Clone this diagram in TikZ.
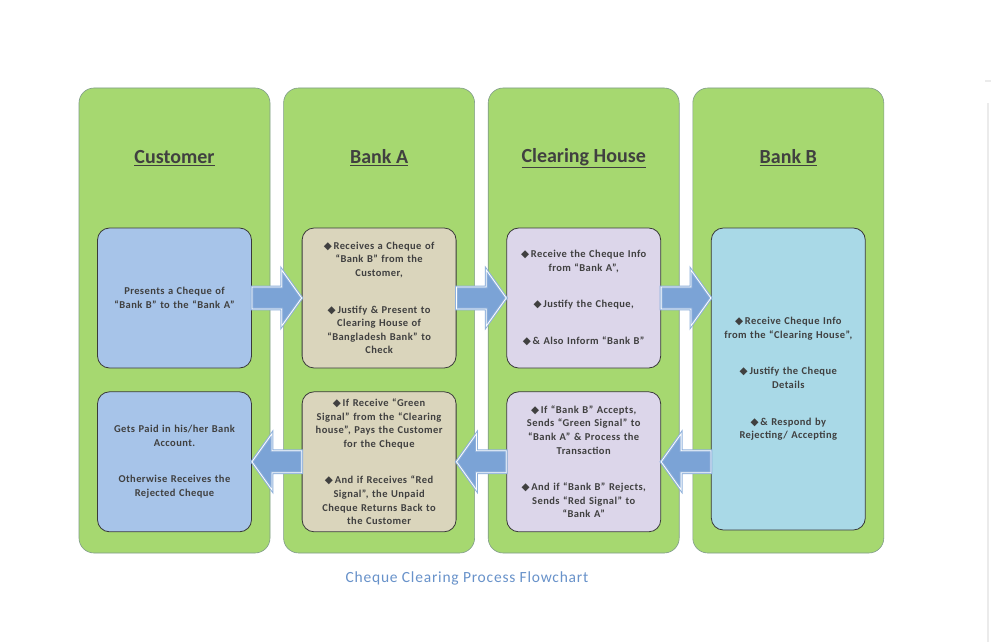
\documentclass[tikz,border=0pt]{standalone}
\usepackage{fontspec}
\setmainfont{Carlito}
\newfontfamily\symfont{DejaVu Sans}
\usepackage{tikz}
\usetikzlibrary{positioning,calc}
\definecolor{lanegreen}{HTML}{A6D870}
\definecolor{laneline}{HTML}{7F9A8A}
\definecolor{boxline}{HTML}{3A3A3A}
\definecolor{custblue}{HTML}{A7C4E9}
\definecolor{bankatan}{HTML}{DAD5BC}
\definecolor{chlav}{HTML}{DCD6EA}
\definecolor{bankbcyan}{HTML}{A9D9E7}
\definecolor{arrowblue}{HTML}{7BA3D6}
\definecolor{textgrey}{HTML}{404040}
\definecolor{capblue}{HTML}{6892CA}
\tikzstyle{lane}=[draw=laneline,fill=lanegreen,line width=0.6pt,rounded corners=15pt,minimum width=191pt,minimum height=465pt,inner sep=0pt]
\tikzstyle{title}=[text=textgrey,font=\bfseries\fontsize{20}{23}\selectfont]
\tikzstyle{box}=[draw=boxline,line width=0.8pt,rounded corners=12pt,minimum width=154pt,minimum height=140pt,text width=150pt,inner sep=0pt,align=center,text=textgrey,font=\bfseries\fontsize{10.5}{13.6}\selectfont\addfontfeature{LetterSpace=4}]
\tikzstyle{fatarrow}=[draw=arrowblue!85,fill=arrowblue,line width=1pt,double=white,double distance=0.8pt,
  to path={let \p1=(\tikztostart), \p2=(\tikztotarget), \n1={ifthenelse(\x2>\x1,20,-20)} in
    (\x1,\y1+11pt) -- (\x2-\n1,\y1+11pt) -- (\x2-\n1,\y1+28pt) -- (\x2,\y1)
    -- (\x2-\n1,\y1-28pt) -- (\x2-\n1,\y1-11pt) -- (\x1,\y1-11pt) -- cycle}]
\newcommand{\dia}{{\symfont ◆}\,}

\begin{document}
\begin{tikzpicture}[x=1pt,y=-1pt]
  \useasboundingbox[fill=white] (0,0) rectangle (991,642);
  % swim lanes
  \node [lane] (lcust) at (174.5,320.5) {};
  \node [lane, right=13pt of lcust] (lbanka) {};
  \node [lane, right=13pt of lbanka] (lch) {};
  \node [lane, right=13pt of lch] (lbankb) {};
  \node [title] (tcust) at (lcust |- 0,158) {\underline{Customer}};
  \node [title] (tbanka) at (lbanka |- 0,158) {\underline{Bank A}};
  \node [title] (tch) at (lch |- 0,158) {\underline{Clearing House}};
  \node [title] (tbankb) at (lbankb |- 0,158) {\underline{Bank B}};
  % steps
  \node [box, fill=custblue] (cust1) at (lcust |- 0,298)
    {Presents a Cheque of\\ “Bank B” to the “Bank A”};
  \node [box, fill=custblue, below=23pt of cust1] (cust2)
    {Gets Paid in his/her Bank\\ Account.\\[23pt] Otherwise Receives the\\ Rejected Cheque};
  \node [box, fill=bankatan] (banka1) at (lbanka |- 0,298)
    {\dia Receives a Cheque of\\ “Bank B” from the\\ Customer,\\[23pt]
     \dia Justify \& Present to\\ Clearing House of\\ “Bangladesh Bank” to\\ Check};
  \node [box, fill=bankatan, below=23pt of banka1] (banka2)
    {\dia If Receive “Green\\ Signal” from the “Clearing\\ house”, Pays the Customer\\ for the Cheque\\[23pt]
     \dia And if Receives “Red\\ Signal”, the Unpaid\\ Cheque Returns Back to\\ the Customer};
  \node [box, fill=chlav] (ch1) at (lch |- 0,298)
    {\dia Receive the Cheque Info\\ from “Bank A”,\\[23pt] \dia Justify the Cheque,\\[23pt] \dia \& Also Inform “Bank B”};
  \node [box, fill=chlav, below=23pt of ch1] (ch2)
    {\dia If “Bank B” Accepts,\\ Sends “Green Signal” to\\ “Bank A” \& Process the\\ Transaction\\[23pt]
     \dia And if “Bank B” Rejects,\\ Sends “Red Signal” to\\ “Bank A”};
  \node [box, fill=bankbcyan, minimum height=302pt] (bankb) at (lbankb |- 0,379)
    {\dia Receive Cheque Info\\ from the “Clearing House”,\\[23pt] \dia Justify the Cheque\\ Details\\[23pt]
     \dia \& Respond by\\ Rejecting/ Accepting};
  % flow
  \draw [fatarrow] (cust1.east) to (banka1.west);
  \draw [fatarrow] (banka1.east) to (ch1.west);
  \draw [fatarrow] (ch1.east) to (ch1.east -| bankb.west);
  \draw [fatarrow] (ch2.east -| bankb.west) to (ch2.east);
  \draw [fatarrow] (ch2.west) to (banka2.east);
  \draw [fatarrow] (banka2.west) to (cust2.east);
  \node [text=capblue, font=\fontsize{15.5}{18}\selectfont\addfontfeature{LetterSpace=5}] (caption) at (467,578) {Cheque Clearing Process Flowchart};
  % page edge
  \draw [draw=black!8, line width=2pt] (988,103) -- (988,642);
  \draw [draw=black!8, line width=2pt] (985,81) -- (991,81);
\end{tikzpicture}
\end{document}
